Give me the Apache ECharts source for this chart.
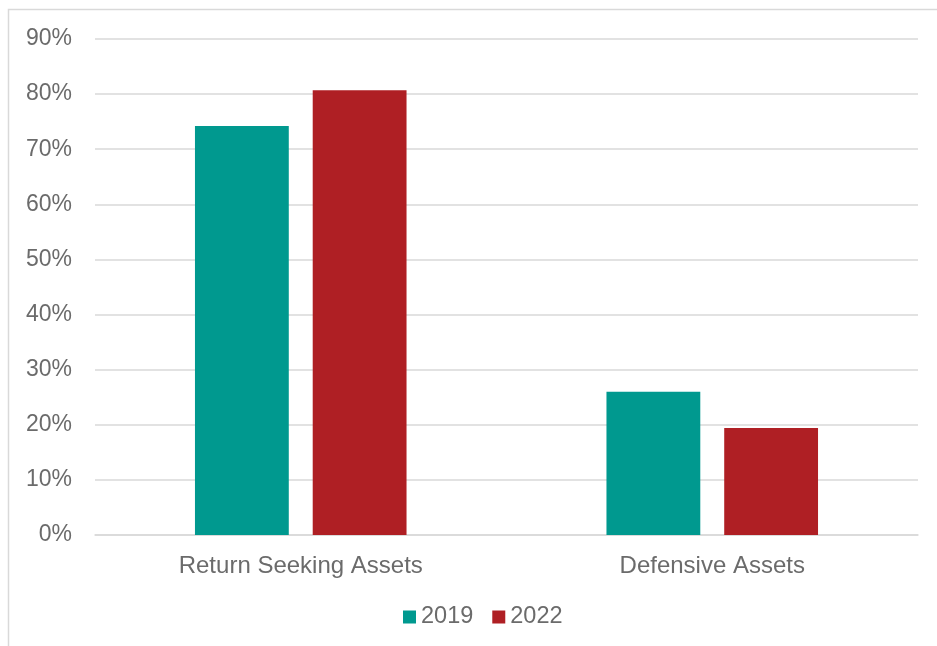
<!DOCTYPE html>
<html>
<head>
<meta charset="utf-8">
<script src="https://cdn.jsdelivr.net/npm/echarts@6/dist/echarts.min.js"></script>
<style>
html,body{margin:0;padding:0;background:#fff;}
#chart{width:937px;height:646px;}
</style>
</head>
<body>
<div id="chart"></div>
<script>
const categories = ["Return Seeking Assets", "Defensive Assets"];
const seriesNames = ["2019", "2022"];
const values2019 = [74.2, 26.0];
const values2022 = [80.7, 19.4];
const yTicks = [0, 10, 20, 30, 40, 50, 60, 70, 80, 90];

const chart = echarts.init(document.getElementById('chart'));
const textColor = '#6b6b6b';
const font = 'Liberation Sans, Arial, sans-serif';
chart.setOption({
  animation: false,
  graphic: [{
    type: 'rect',
    shape: {x: 8.5, y: 9.5, width: 1000, height: 1000},
    style: {fill: 'none', stroke: '#d9d9d9', lineWidth: 1.5},
    silent: true
  }],
  grid: {left: 95, right: 19, top: 39, bottom: 111, containLabel: false},
  legend: {
    data: seriesNames,
    bottom: 12,
    left: 398,
    itemWidth: 13,
    itemHeight: 13,
    itemGap: 19,
    icon: 'rect',
    textStyle: {color: textColor, fontSize: 23.5, fontFamily: font}
  },
  xAxis: {
    type: 'category',
    data: categories,
    axisLine: {lineStyle: {color: '#d9d9d9', width: 1.5}},
    axisTick: {show: false},
    axisLabel: {color: textColor, fontSize: 24, fontFamily: font, margin: 19}
  },
  yAxis: {
    type: 'value',
    min: yTicks[0],
    max: yTicks[yTicks.length - 1],
    interval: 10,
    axisLine: {show: false},
    axisTick: {show: false},
    axisLabel: {formatter: '{value}%', color: textColor, fontSize: 23, fontFamily: font, margin: 23, padding: [6, 0, 0, 0]},
    splitLine: {lineStyle: {color: '#d9d9d9', width: 1.5}}
  },
  series: [
    {name: seriesNames[0], type: 'bar', data: values2019, barWidth: '22.8%', barGap: '25.5%', itemStyle: {color: '#00998F'}},
    {name: seriesNames[1], type: 'bar', data: values2022, barWidth: '22.8%', barGap: '25.5%', itemStyle: {color: '#AF1F24'}}
  ]
});
</script>
</body>
</html>
